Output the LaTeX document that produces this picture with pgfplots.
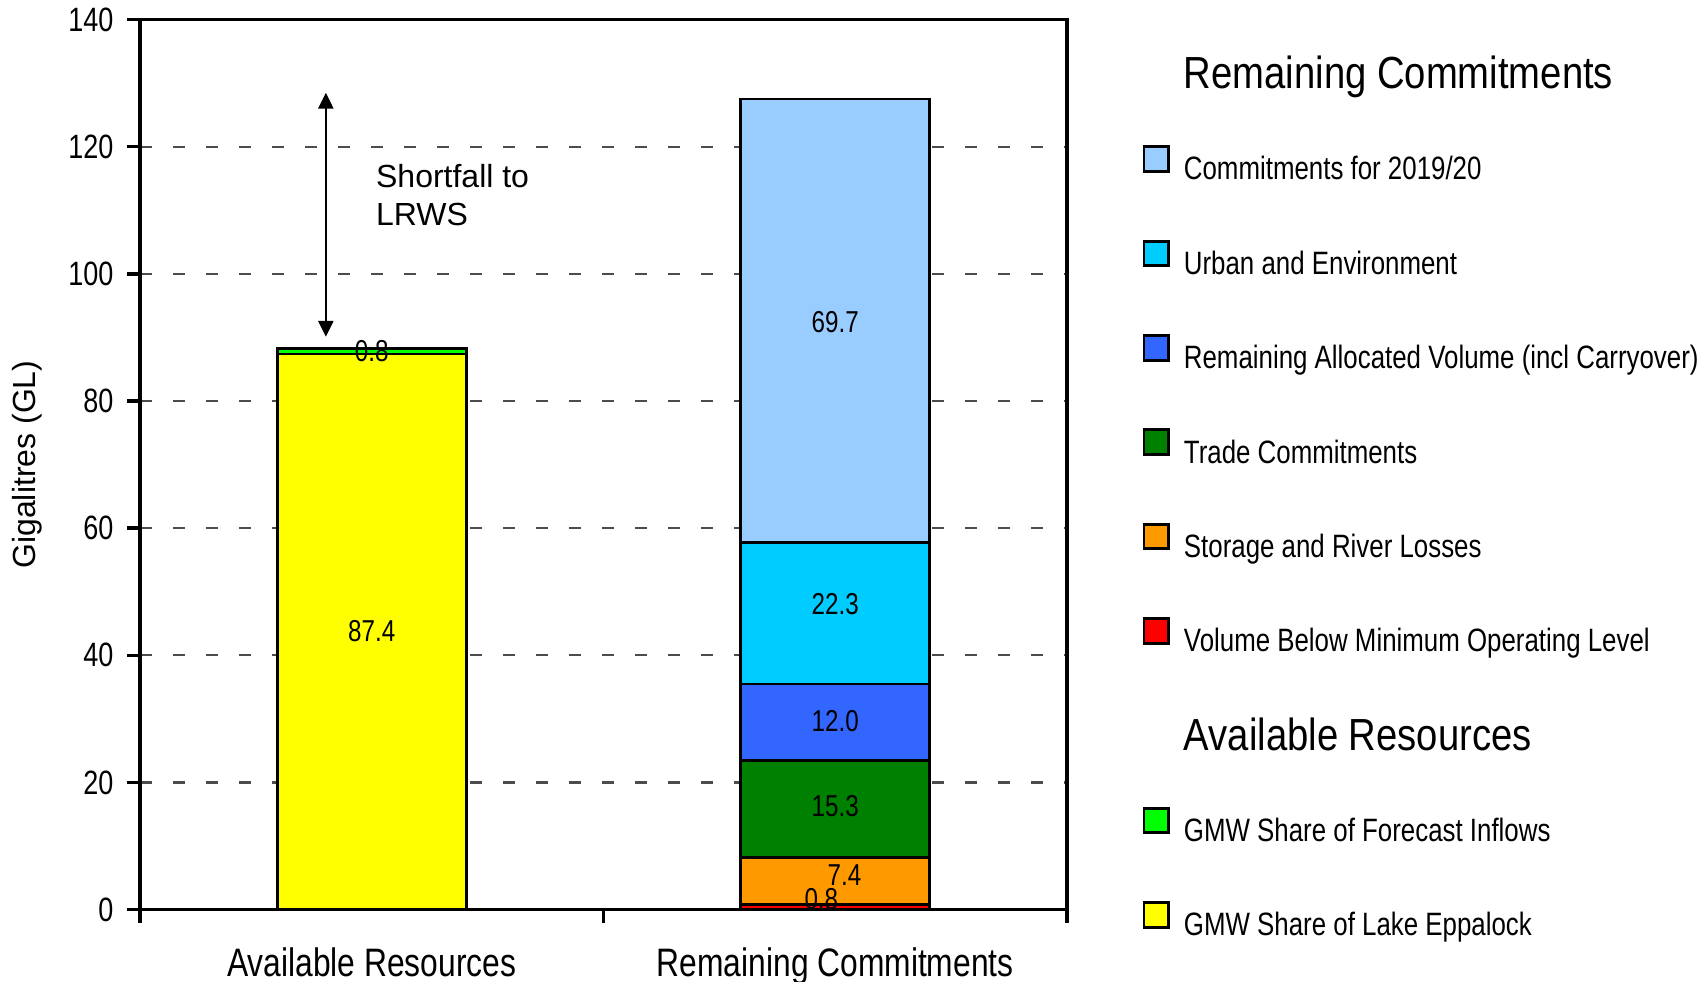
\documentclass[border=0pt]{standalone}
\usepackage{fontspec}
\setmainfont{Liberation Sans}
\newfontfamily\narrow{Liberation Sans}[FakeStretch=0.8]
\newfontfamily\narrowT{Liberation Sans}[FakeStretch=0.85]
\usepackage{pgfplots}
\pgfplotsset{compat=1.18}
\usetikzlibrary{arrows.meta}
\definecolor{cLightBlue}{HTML}{99CCFF}
\definecolor{cCyan}{HTML}{00CCFF}
\definecolor{cBlue}{HTML}{3366FF}
\definecolor{cDkGreen}{HTML}{008000}
\definecolor{cOrange}{HTML}{FF9900}
\definecolor{cRed}{HTML}{FF0000}
\definecolor{cGreen}{HTML}{00FF00}
\definecolor{cYellow}{HTML}{FFFF00}
\pgfplotsset{
  legsq/.style={fill=#1, draw=black, line width=0.8pt,
    legend image code/.code={\draw[fill=#1,draw=black,line width=0.8pt] (0pt,-0.3pt) rectangle (7pt,6.7pt);}},
}
\begin{document}
\begin{tikzpicture}
\useasboundingbox (-1.40cm,-0.714cm) rectangle (15.66cm,9.096cm);
\begin{axis}[
  at={(0,0)}, anchor=south west,
  scale only axis, width=9.27cm, height=8.90cm,
  xmin=0, xmax=2, ymin=0, ymax=140,
  ybar stacked, bar width=18.9mm,
  axis line style={line width=1pt},
  xtick={0,1,2}, xticklabels={,,},
  extra x ticks={0.5,1.5},
  extra x tick labels={Available Resources, Remaining Commitments},
  extra x tick style={major tick length=0pt, grid=none},
  ytick={0,20,...,140},
  tick align=outside, major tick length=1.3mm,
  tick style={black, line width=1pt},
  xtick pos=bottom, ytick pos=left,
  ymajorgrids,
  major grid style={black!70, line width=0.6pt, dash pattern=on 1.2mm off 2.1mm},
  /pgf/number format/assume math mode=true,
  yticklabel style={font=\narrow\fontsize{9.6}{11}\selectfont, anchor=east, inner sep=0pt, xshift=-1.3mm},
  xticklabel style={font=\narrow\fontsize{11.3}{13}\selectfont, anchor=base, inner sep=0pt, yshift=-6.7mm},
  every axis y label/.style={at={(rel axis cs:-0.1219,0.5)}, rotate=90, anchor=center},
  ylabel={\fontsize{9.1}{11}\selectfont Gigalitres (GL)},
  legend style={at={(rel axis cs:1.0807,0.9665)}, anchor=north west, draw=none, fill=none,
    inner sep=0pt, row sep=15.5pt, column sep=1.4mm,
    nodes={inner sep=0pt, text height=7pt, text depth=1.5pt},
    font=\narrow\fontsize{9.2}{11}\selectfont},
  legend cell align=left,
  legend reversed,
  after end axis/.code={
    \draw[{Triangle[length=1.6mm,width=1.5mm]}-{Triangle[length=1.6mm,width=1.5mm]}, line width=0.7pt]
      (axis cs:0.401,90.1) -- (axis cs:0.401,128.5);
    \node[anchor=west, inner sep=0pt, font=\fontsize{9.1}{11}\selectfont] at (axis cs:0.508,115.4) {Shortfall to};
    \node[anchor=west, inner sep=0pt, font=\fontsize{9.1}{11}\selectfont] at (axis cs:0.508,109.4) {LRWS};
    \node[font=\narrow\fontsize{8.6}{10}\selectfont, inner sep=0pt] at (axis cs:0.5,43.8) {87.4};
    \node[font=\narrow\fontsize{8.6}{10}\selectfont, inner sep=0pt] at (axis cs:0.5,87.8) {0.8};
    \node[font=\narrow\fontsize{8.6}{10}\selectfont, inner sep=0pt] at (axis cs:1.5,92.4) {69.7};
    \node[font=\narrow\fontsize{8.6}{10}\selectfont, inner sep=0pt] at (axis cs:1.5,48.1) {22.3};
    \node[font=\narrow\fontsize{8.6}{10}\selectfont, inner sep=0pt] at (axis cs:1.5,29.6) {12.0};
    \node[font=\narrow\fontsize{8.6}{10}\selectfont, inner sep=0pt] at (axis cs:1.5,16.3) {15.3};
    \node[font=\narrow\fontsize{8.6}{10}\selectfont, inner sep=0pt] at (axis cs:1.52,5.5) {7.4};
    \node[font=\narrow\fontsize{8.6}{10}\selectfont, inner sep=0pt] at (axis cs:1.47,1.7) {0.8};
  },
]
\addplot[legsq=cYellow] coordinates {(0.5,87.4) (1.5,0)};
\addlegendentry{GMW Share of Lake Eppalock}
\addplot[legsq=cGreen] coordinates {(0.5,0.8) (1.5,0)};
\addlegendentry{GMW Share of Forecast Inflows}
\addlegendimage{empty legend}
\addlegendentry[text height=11pt, text depth=0.6pt]{\narrowT\fontsize{12.8}{14}\selectfont Available Resources}
\addplot[legsq=cRed] coordinates {(0.5,0) (1.5,0.8)};
\addlegendentry{Volume Below Minimum Operating Level}
\addplot[legsq=cOrange] coordinates {(0.5,0) (1.5,7.4)};
\addlegendentry{Storage and River Losses}
\addplot[legsq=cDkGreen] coordinates {(0.5,0) (1.5,15.3)};
\addlegendentry{Trade Commitments}
\addplot[legsq=cBlue] coordinates {(0.5,0) (1.5,12.0)};
\addlegendentry{Remaining Allocated Volume (incl Carryover)}
\addplot[legsq=cCyan] coordinates {(0.5,0) (1.5,22.3)};
\addlegendentry{Urban and Environment}
\addplot[legsq=cLightBlue] coordinates {(0.5,0) (1.5,69.7)};
\addlegendentry{Commitments for 2019/20}
\addlegendimage{empty legend}
\addlegendentry[text height=11pt, text depth=0.6pt]{\narrowT\fontsize{12.8}{14}\selectfont Remaining Commitments}
\end{axis}
\end{tikzpicture}
\end{document}
